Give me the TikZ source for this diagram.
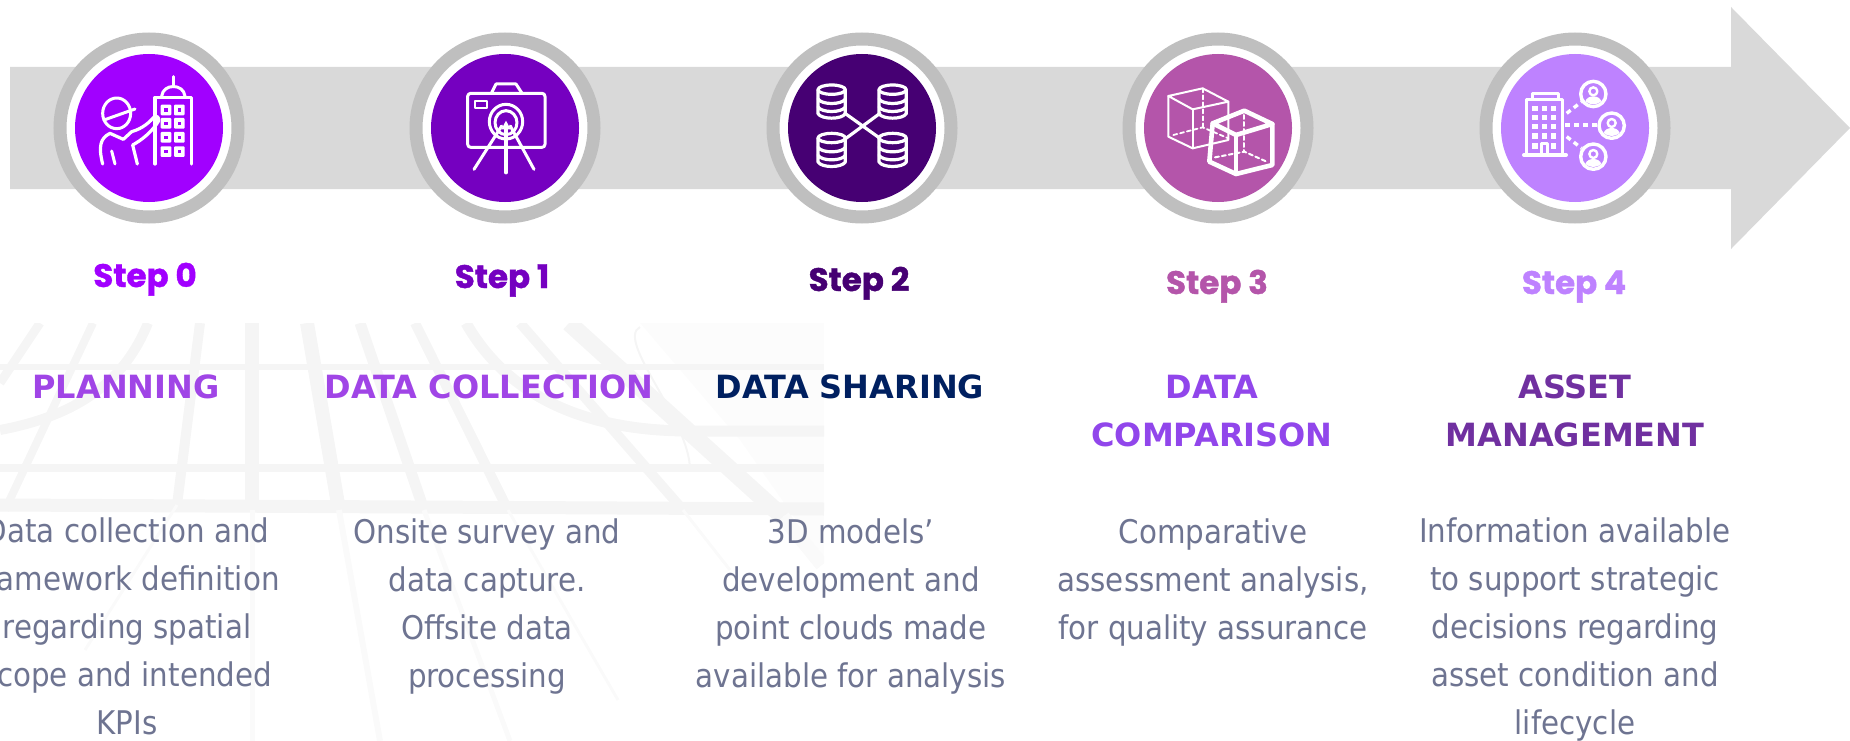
\documentclass[tikz,border=0pt]{standalone}
\usepackage{fontspec}
\setmainfont{DejaVu Sans Condensed}
\newfontfamily\titlefont{DejaVu Sans}
\newfontfamily\stepfont{Poppins}[BoldFeatures={FakeBold=1.2}]
\definecolor{band_gray}{HTML}{D9D9D9}
\definecolor{ring_gray}{HTML}{BFBFBF}
\definecolor{road_gray}{HTML}{F5F5F5}
\definecolor{road_pale}{HTML}{FAFAFA}
\definecolor{body_gray}{HTML}{6E7491}
\definecolor{col_a}{HTML}{A100FF}
\definecolor{col_b}{HTML}{7500C0}
\definecolor{col_c}{HTML}{460073}
\definecolor{col_d}{HTML}{B455AA}
\definecolor{col_e}{HTML}{BE82FF}
\definecolor{title_a}{HTML}{A045E6}
\definecolor{title_c}{HTML}{002060}
\definecolor{title_d}{HTML}{9146EB}
\definecolor{title_e}{HTML}{7030A0}
\tikzset{
  step_text/.style = {font=\stepfont\bfseries\fontsize{32.5}{36}\selectfont, anchor=base, inner sep=0},
  title_text/.style = {font=\titlefont\bfseries\fontsize{32}{48}\selectfont, align=center, anchor=base, inner sep=0},
  body_text/.style = {font=\fontsize{32.6}{48}\selectfont, text=body_gray, align=center, anchor=base, inner sep=0}
}
\tikzset{
  ring/.style = {circle, draw=ring_gray, fill=white, line width=13, minimum size=178, inner sep=0},
  badge/.style = {circle, fill=#1, minimum size=148, inner sep=0},
  icon/.style = {draw=white, line width=#1, line join=round, line cap=round, fill=none},
  road/.style = {draw=road_gray, line width=#1},
  road_faint/.style = {draw=road_pale, line width=#1}
}
\usetikzlibrary{positioning}

\begin{document}
\begin{tikzpicture}[x=1pt, y=-1pt]
        \useasboundingbox (0,0) rectangle (1850,741);

        % Map behind the text
        \begin{scope}
            \clip (0,323) rectangle (824,741);
            \fill[road_pale!50!white] (640,323)--(824,323)--(824,560)--(740,440)--cycle;
            \foreach \xa/\ya/\xb/\yb/\w in {40/323/0/383/9, 93/323/5/510/8, 200/323/177/505/10, 252/323/252/510/14,
                    307/323/339/510/14, 360/323/424/510/11, 415/323/508/510/10, 520/323/683/510/10, 569/323/783/517/17} {
                \draw[road=\w] (\xa,\ya)--(\xb,\yb);
            }
            \draw[road=10] (148,323) .. controls (125,380) and (80,415) .. (0,430);
            \draw[road=11] (466,323) .. controls (510,400) and (590,431) .. (690,431)--(824,431);
            \draw[road=2] (640,327) .. controls (615,340) and (690,420) .. (690,470);
            \draw[road=6] (0,367)--(824,367);
            \draw[road=8] (0,468)--(824,468);
            \draw[road=13] (0,505)--(824,509);
            \foreach \xa/\ya/\xb/\yb/\w in {177/505/85/650/3, 252/510/252/741/5, 339/510/380/741/6, 424/510/510/741/5,
                    508/510/618/700/3, 683/510/730/570/3, 783/517/822/565/14} {
                \draw[road_faint=\w] (\xa,\ya)--(\xb,\yb);
            }
        \end{scope}

        % Arrow band
        \fill[band_gray] (10,67)--(1731,67)--(1731,7)--(1850,128)--(1731,249)--(1731,189)--(10,189)--cycle;

        % Badges
        \node[ring] at (149,128) (r_0) {};
        \node[ring] at (505,128) (r_1) {};
        \node[ring] at (862,128) (r_2) {};
        \node[ring] at (1218,128) (r_3) {};
        \node[ring] at (1575,128) (r_4) {};
        \node[badge=col_a] at (r_0.center) (c_0) {};
        \node[badge=col_b] at (r_1.center) (c_1) {};
        \node[badge=col_c] at (r_2.center) (c_2) {};
        \node[badge=col_d] at (r_3.center) (c_3) {};
        \node[badge=col_e] at (r_4.center) (c_4) {};

        % Icon 0, worker and tower
        \begin{scope}[shift={(60,50)}, x=1/3*1pt, y=-1/3*1pt]
            \draw[icon=3] (340,80)--(340,110);
            \draw[icon=3] (305,138) .. controls (310,100) and (370,100) .. (375,138);
            \draw[icon=3.2] (285,342)--(285,142)--(395,142)--(395,342);
            \foreach \y in {180,220,262,305} {
                \foreach \x in {318,358} {
                    \fill[white, rounded corners=1] (\x-16,\y-16) rectangle (\x+16,\y+16);
                    \fill[col_a] (\x-5,\y-5) rectangle (\x+5,\y+5);
                }
            }
            \draw[icon=3] (170,190) ellipse [x radius=42, y radius=46];
            \draw[icon=3] (132,210)--(225,177);
            \draw[icon=3.2] (128,342) .. controls (115,290) and (120,265) .. (150,250)--(190,268)--(215,245)
                .. controls (250,235) and (270,215) .. (283,200) .. controls (298,195) and (300,212) .. (290,222)
                .. controls (270,250) and (245,270) .. (218,285)--(232,342);
            \draw[icon=3] (155,303)--(165,342);
        \end{scope}

        % Icon 1, camera on tripod
        \begin{scope}[shift={(430,50)}, x=1/3*1pt, y=-1/3*1pt]
            \draw[icon=3, rounded corners=3] (113,130) rectangle (345,292);
            \draw[icon=3] (185,128)--(198,102)--(258,102)--(275,128);
            \draw[icon=2.2] (135,153) rectangle (170,175);
            \fill[col_b] (228,215) circle [radius=52];
            \draw[icon=3] (228,215) ellipse [x radius=50, y radius=52];
            \draw[icon=3] (228,218) ellipse [x radius=33, y radius=36];
            \fill[white] (228,212)--(242,238)--(214,238)--cycle;
            \draw[icon=3.4] (228,368)--(228,225);
            \draw[icon=3] (132,358)--(215,228);
            \draw[icon=3] (312,358)--(241,228);
        \end{scope}

        % Icon 2, four linked stores
        \begin{scope}[shift={(740,0)}, x=1/3*1pt, y=-1/3*1pt]
            \draw[icon=3.2] (315,340)--(420,415);
            \draw[icon=3.2] (420,340)--(318,415);
            \foreach \x/\y in {275/305, 458/305, 275/450, 458/450} {
                \draw[icon=3.2] (\x,\y-36) ellipse [x radius=41, y radius=14];
                \draw[icon=3.2] (\x-41,\y-36)--(\x-41,\y+36) .. controls (\x-30,\y+54) and (\x+30,\y+54) .. (\x+41,\y+36)--(\x+41,\y-36);
                \draw[icon=3.2] (\x-41,\y-8) .. controls (\x-30,\y+10) and (\x+30,\y+10) .. (\x+41,\y-8);
                \draw[icon=3.2] (\x-41,\y+16) .. controls (\x-30,\y+34) and (\x+30,\y+34) .. (\x+41,\y+16);
            }
        \end{scope}

        % Icon 3, two cubes
        \begin{scope}[shift={(1100,20)}, x=1/3*1pt, y=-1/3*1pt]
            \draw[icon=2] (205,228)--(308,205)--(385,245)--(278,268)--cycle;
            \draw[icon=2] (278,268)--(278,385);
            \draw[icon=2] (205,228)--(205,350)--(278,385)--(385,360)--(385,245);
            \draw[icon=1.8, dash pattern=on 4 off 3] (308,205)--(308,322);
            \draw[icon=1.8, dash pattern=on 4 off 3] (220,345)--(308,322)--(385,355);
            \draw[icon=4.6] (338,310)--(433,272)--(517,312)--(408,345)--cycle;
            \draw[icon=4.6] (408,345)--(408,462);
            \draw[icon=4.6] (338,310)--(328,425)--(408,462)--(517,435)--(517,312);
            \draw[icon=2, dash pattern=on 4 off 3] (433,285)--(433,395);
            \draw[icon=2, dash pattern=on 4 off 3] (345,412)--(433,395)--(500,425);
        \end{scope}

        % Icon 4, tower and three users
        \begin{scope}[shift={(1500,60)}, x=1/3*1pt, y=-1/3*1pt]
            \draw[icon=3] (80,285)--(80,120)--(188,120)--(188,285);
            \draw[icon=3] (96,118)--(96,102)--(175,102)--(175,118);
            \draw[icon=4] (72,285)--(198,285);
            \foreach \y in {145,172,200,228} {
                \foreach \x in {105,133,160} {
                    \fill[white] (\x-8,\y-8) rectangle (\x+8,\y+8);
                }
            }
            \fill[white] (97,250) rectangle (114,268);
            \fill[white] (152,250) rectangle (169,268);
            \draw[icon=2.6] (125,285)--(125,250)--(142,250)--(142,285);
            \draw[icon=3.4, dash pattern=on 5 off 4, line cap=butt] (200,160)--(245,125);
            \draw[icon=3.4, dash pattern=on 5 off 4, line cap=butt] (195,195)--(295,195);
            \draw[icon=3.4, dash pattern=on 5 off 4, line cap=butt] (200,230)--(245,265);
            \foreach \x/\y in {280/102, 335/197, 280/290} {
                \draw[icon=3.4] (\x,\y) circle [radius=38];
                \draw[icon=2.4] (\x,\y-8) circle [radius=12];
                \fill[white] (\x-24,\y+22) .. controls (\x-18,\y+2) and (\x+18,\y+2) .. (\x+24,\y+22) .. controls (\x+10,\y+34) and (\x-10,\y+34) .. cycle;
            }
        \end{scope}

        % Step labels
        \node[step_text, text=col_a] at (145,287) (s_0) {Step 0};
        \node[step_text, text=col_b] at (502,288) (s_1) {Step 1};
        \node[step_text, text=col_c] at (859,291) (s_2) {Step 2};
        \node[step_text, text=col_d] at (1217,294) (s_3) {Step 3};
        \node[step_text, text=col_e] at (1574,294) (s_4) {Step 4};

        % Titles
        \node[title_text, text=title_a] at (126,398) (t_0) {PLANNING};
        \node[title_text, text=title_a] at (489,398) (t_1) {DATA COLLECTION};
        \node[title_text, text=title_c] at (850,398) (t_2) {DATA SHARING};
        \node[title_text, text=title_d] at (1212,446) (t_3) {DATA\\COMPARISON};
        \node[title_text, text=title_e] at (1575,446) (t_4) {ASSET\\MANAGEMENT};

        % Descriptions
        \node[body_text] at (127,734) (d_0) {Data collection and\\framework definition\\regarding spatial\\scope and intended\\KPIs};
        \node[body_text] at (487,687) (d_1) {Onsite survey and\\data capture.\\Offsite data\\processing};
        \node[body_text] at (851,687) (d_2) {3D models’\\development and\\point clouds made\\available for analysis};
        \node[body_text] at (1213,639) (d_3) {Comparative\\assessment analysis,\\for quality assurance};
        \node[body_text] at (1575,734) (d_4) {Information available\\to support strategic\\decisions regarding\\asset condition and\\lifecycle};
\end{tikzpicture}
\end{document}
